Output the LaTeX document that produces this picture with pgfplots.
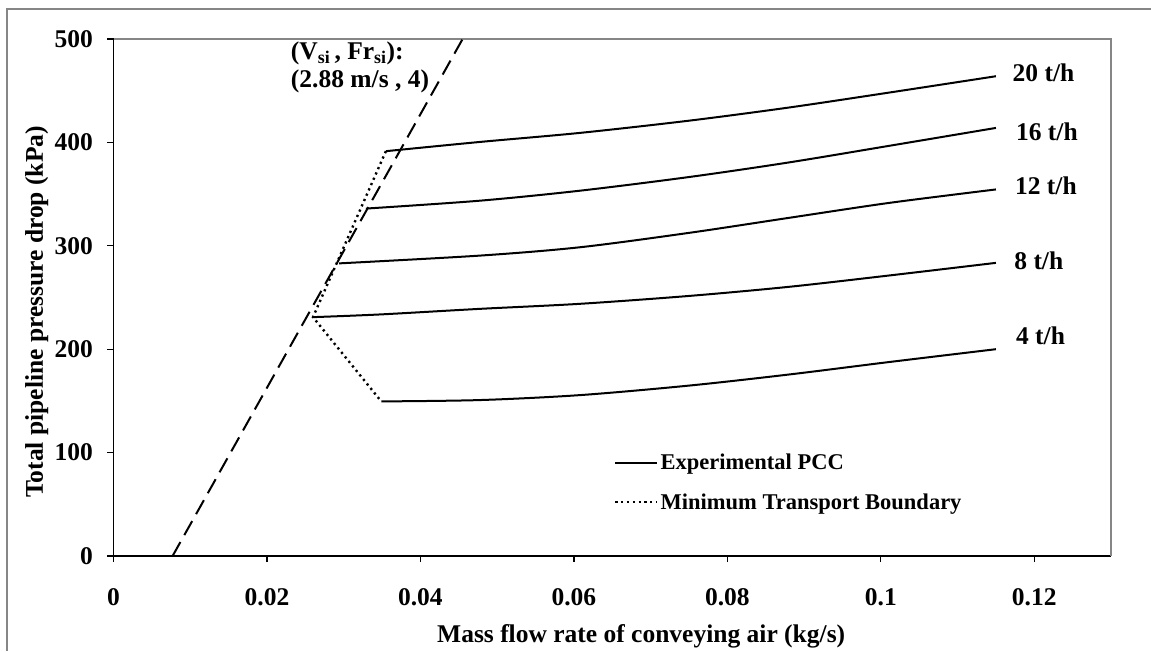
\documentclass[border=0pt]{standalone}
\usepackage{fontspec}
\setmainfont{Liberation Serif}
\usepackage{pgfplots}
\pgfplotsset{compat=1.18}
\definecolor{framegray}{RGB}{134,134,134}
\pgfplotstableread{
x y
0.0355 391.5
0.0477 400.4
0.0608 409.2
0.0750 421.0
0.0880 433.7
0.1011 448.2
0.1150 464.0
}\tTwenty
\pgfplotstableread{
x y
0.0329 336.0
0.0477 343.6
0.0608 353.3
0.0750 366.5
0.0880 380.6
0.1011 396.7
0.1150 414.0
}\tSixteen
\pgfplotstableread{
x y
0.0294 283.0
0.0477 290.5
0.0608 298.6
0.0750 312.5
0.0880 327.0
0.1011 341.5
0.1150 354.5
}\tTwelve
\pgfplotstableread{
x y
0.0260 231.0
0.0347 233.6
0.0477 239.0
0.0608 243.9
0.0750 251.5
0.0880 260.3
0.1011 271.3
0.1150 283.5
}\tEight
\pgfplotstableread{
x y
0.0349 149.5
0.0477 150.8
0.0608 155.6
0.0750 164.8
0.0880 175.5
0.1011 187.6
0.1150 200.0
}\tFour
\begin{document}
\begin{tikzpicture}
\path[use as bounding box] (0,0) rectangle (1151pt,651pt);
\draw[framegray, line width=2pt] (6.7pt,0pt) -- (6.7pt,641.5pt) -- (1151pt,641.5pt);
\begin{axis}[
  at={(113.5pt,95pt)}, anchor=south west,
  scale only axis, width=997.5pt, height=517pt,
  xmin=0, xmax=0.13, ymin=0, ymax=500,
  clip=false,
  axis x line*=bottom, axis y line*=left,
  axis line style={line width=1.3pt, -, black},
  xtick={0,0.02,0.04,0.06,0.08,0.1,0.12},
  xticklabels={0,0.02,0.04,0.06,0.08,0.1,0.12},
  ytick={0,100,200,300,400,500},
  yticklabels={0,100,200,300,400,500},
  scaled x ticks=false, scaled y ticks=false,
  tick align=outside, major tick length=6pt,
  tick style={line width=1.3pt, black},
  tick label style={font=\fontsize{25.5}{29}\selectfont\bfseries},
  xticklabel style={anchor=base, yshift=-43pt},
  yticklabel style={anchor=east, xshift=-11pt},
  xlabel={Mass flow rate of conveying air (kg/s)},
  ylabel={Total pipeline pressure drop (kPa)},
  label style={font=\fontsize{25.5}{29}\selectfont\bfseries},
  xlabel style={at={(axis description cs:0.529,-0.168)}, anchor=base},
  ylabel style={at={(axis description cs:-0.0707,0.472)}, anchor=base, rotate=0},
  legend style={at={(axis description cs:0.5018,0.201)}, anchor=north west,
    draw=none, fill=none, inner sep=0pt, row sep=18pt,
    font=\fontsize{22.5}{26}\selectfont\bfseries,
    nodes={inner sep=2pt}},
  legend cell align=left,
  legend image code/.code={\draw[#1] (0pt,0pt) -- (42pt,0pt);},
]
\draw[framegray, line width=1.5pt] (rel axis cs:0,1) -- (rel axis cs:1,1) -- (rel axis cs:1,0);
\addplot[black, line width=2pt, smooth] table[x=x,y=y] {\tTwenty};
\addlegendentry{Experimental PCC}
\addplot[black, line width=2.4pt, dash pattern=on 2.2pt off 3.6pt]
  coordinates {(0.0355,391.5) (0.0260,231.0) (0.0349,149.5)};
\addlegendentry{Minimum Transport Boundary}
\addplot[black, line width=2pt, smooth, forget plot] table[x=x,y=y] {\tSixteen};
\addplot[black, line width=2pt, smooth, forget plot] table[x=x,y=y] {\tTwelve};
\addplot[black, line width=2pt, smooth, forget plot] table[x=x,y=y] {\tEight};
\addplot[black, line width=2pt, smooth, forget plot] table[x=x,y=y] {\tFour};
\addplot[black, line width=2pt, dash pattern=on 16pt off 8pt, forget plot]
  coordinates {(0.0077,0) (0.0455,500)};
\node[anchor=west, inner sep=0pt, font=\fontsize{25.5}{29}\selectfont\bfseries] at (axis cs:0.11716,467.8) {20 t/h};
\node[anchor=west, inner sep=0pt, font=\fontsize{25.5}{29}\selectfont\bfseries] at (axis cs:0.11760,410.3) {16 t/h};
\node[anchor=west, inner sep=0pt, font=\fontsize{25.5}{29}\selectfont\bfseries] at (axis cs:0.11747,357.8) {12 t/h};
\node[anchor=west, inner sep=0pt, font=\fontsize{25.5}{29}\selectfont\bfseries] at (axis cs:0.11738,285.6) {8 t/h};
\node[anchor=west, inner sep=0pt, font=\fontsize{25.5}{29}\selectfont\bfseries] at (axis cs:0.11760,212.8) {4 t/h};
\node[anchor=west, inner sep=0pt, font=\fontsize{25.5}{29}\selectfont\bfseries] at (axis cs:0.0231,486.2) {(V\textsubscript{si}\,, Fr\textsubscript{si}):};
\node[anchor=west, inner sep=0pt, font=\fontsize{25.5}{29}\selectfont\bfseries] at (axis cs:0.0231,458.7) {(2.88 m/s , 4)};
\end{axis}
\end{tikzpicture}
\end{document}
